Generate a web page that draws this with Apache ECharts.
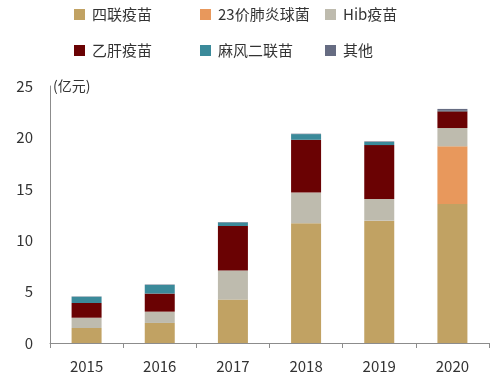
<!DOCTYPE html>
<html><head><meta charset="utf-8">
<script src="https://cdn.jsdelivr.net/npm/echarts@6/dist/echarts.min.js"></script>
<style>html,body{margin:0;padding:0;background:#fff}#c{width:499px;height:382px}</style>
</head><body><div id="c"></div>
<script>
const categories = ['2015','2016','2017','2018','2019','2020'];
const seriesNames = ['四联疫苗','23价肺炎球菌','Hib疫苗','乙肝疫苗','麻风二联苗','其他'];
const siLian   = [1.46, 1.95, 4.22, 11.65, 11.9, 13.53];
const pneumo23 = [0, 0, 0, 0, 0, 5.6];
const hib      = [1.0, 1.1, 2.83, 2.98, 2.11, 1.78];
const hepB     = [1.43, 1.76, 4.33, 5.14, 5.24, 1.63];
const mr       = [0.61, 0.84, 0.35, 0.55, 0.3, 0.05];
const other    = [0.03, 0.04, 0.04, 0.04, 0.06, 0.18];
const yTicks = [0, 5, 10, 15, 20, 25];
const values = [siLian, pneumo23, hib, hepB, mr, other];
const colors = ['#C1A263','#E8985C','#BEBBAE','#6A0203','#3B8A9A','#666C82'];
const font = '"Noto Sans CJK SC", "Noto Sans", sans-serif';
const legendPos = [[74,7],[200,7],[325,7],[74,43],[200,43],[325,43]];
const chart = echarts.init(document.getElementById('c'));
chart.setOption({
  animation:false,
  textStyle:{fontFamily:font},
  legend: seriesNames.map((n,i)=>({
    data:[n], left:legendPos[i][0], top:legendPos[i][1], padding:0, icon:'rect',
    itemWidth:11, itemHeight:11, itemGap:5,
    textStyle:{fontSize:15, color:'#333', fontFamily:font, padding:[0,0,0,2]}
  })),
  grid:{left:50, right:10, top:86, bottom:39, containLabel:false},
  xAxis:{type:'category', data:categories,
    axisLine:{lineStyle:{color:'#8c8c8c'}},
    axisTick:{show:true, length:5, lineStyle:{color:'#8c8c8c'}},
    axisLabel:{fontSize:15, color:'#333', margin:16, fontFamily:font}},
  yAxis:{type:'value', min:0, max:25, interval:5,
    name:'(亿元)', nameLocation:'end', nameGap:0,
    nameTextStyle:{align:'left', verticalAlign:'middle', fontSize:14, color:'#333', padding:[0,0,0,3]},
    axisLine:{show:true, lineStyle:{color:'#8c8c8c'}},
    axisTick:{show:false}, splitLine:{show:false},
    axisLabel:{fontSize:15, color:'#333', margin:17, fontFamily:font,
      formatter:v=>yTicks.includes(v)?String(v):''}},
  series: seriesNames.map((n,i)=>({
    name:n, type:'bar', stack:'total', barWidth:30,
    itemStyle:{color:colors[i]}, data:values[i]
  }))
});
</script></body></html>
